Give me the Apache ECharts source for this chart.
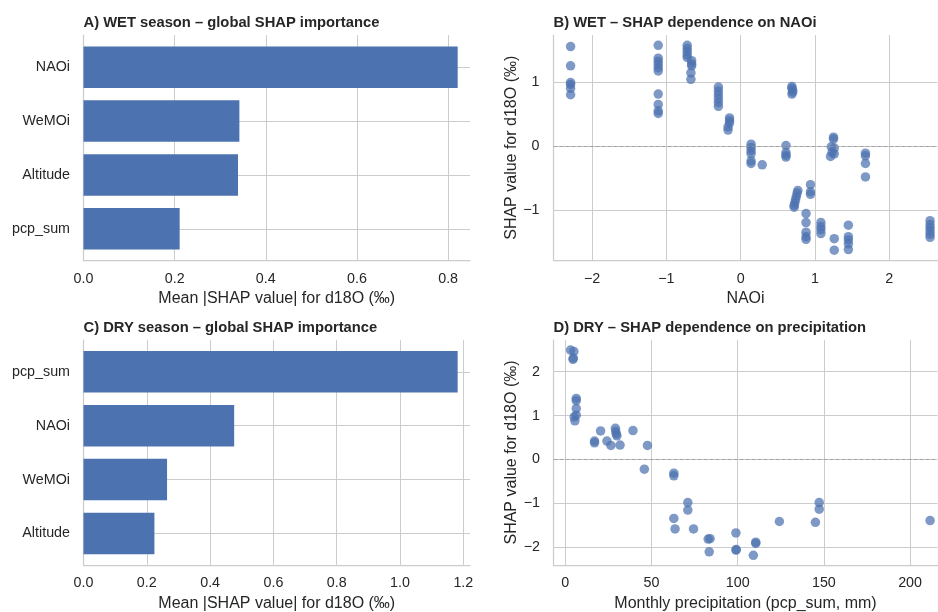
<!DOCTYPE html>
<html>
<head>
<meta charset="utf-8">
<script src="https://cdn.jsdelivr.net/npm/echarts@6/dist/echarts.min.js"></script>
<style>html,body{margin:0;padding:0;background:#fff;}#c{width:938px;height:612px;}</style>
</head>
<body>
<div id="c"></div>
<script>
// ---- data ----
const wetFeatures = ['NAOi', 'WeMOi', 'Altitude', 'pcp_sum'];
const wetImportance = [0.821, 0.342, 0.339, 0.211];
const dryFeatures = ['pcp_sum', 'NAOi', 'WeMOi', 'Altitude'];
const dryImportance = [1.182, 0.476, 0.264, 0.224];

const wetNAOi = [
  -2.29, -2.29, -2.29, -2.29, -2.29, -2.29,
  -1.11, -1.11, -1.11, -1.11, -1.11, -1.11, -1.11, -1.11, -1.11, -1.11,
  -0.72, -0.72, -0.72, -0.72, -0.72, -0.66, -0.66, -0.66, -0.67, -0.67,
  -0.30, -0.30, -0.30, -0.30, -0.30, -0.30,
  -0.15, -0.15, -0.15, -0.17, -0.17,
  0.14, 0.14, 0.14, 0.14, 0.14, 0.14,
  0.29,
  0.61, 0.61, 0.61, 0.61,
  0.69, 0.69, 0.70, 0.70, 0.69,
  0.77, 0.76, 0.75, 0.74, 0.73, 0.72, 0.72,
  0.94, 0.94, 0.94,
  0.88, 0.88, 0.88, 0.88, 0.88,
  1.08, 1.08, 1.08, 1.08,
  1.26, 1.26,
  1.45, 1.45, 1.45, 1.45, 1.45,
  1.25, 1.25, 1.22, 1.26, 1.23, 1.21, 1.26,
  1.68, 1.68, 1.68, 1.68,
  2.55, 2.55, 2.55, 2.55, 2.55, 2.55
];
const wetShap = [
  1.55, 1.25, 0.99, 0.96, 0.90, 0.80,
  1.57, 1.37, 1.32, 1.27, 1.22, 1.17, 0.81, 0.65, 0.55, 0.51,
  1.57, 1.52, 1.47, 1.42, 1.38, 1.33, 1.28, 1.25, 1.14, 1.04,
  0.92, 0.86, 0.80, 0.74, 0.68, 0.62,
  0.44, 0.40, 0.36, 0.30, 0.25,
  0.03, -0.02, -0.07, -0.12, -0.23, -0.27,
  -0.29,
  0.01, -0.10, -0.14, -0.17,
  0.93, 0.90, 0.87, 0.84, 0.81,
  -0.69, -0.73, -0.78, -0.83, -0.88, -0.92, -0.95,
  -0.60, -0.71, -0.75,
  -1.05, -1.19, -1.34, -1.41, -1.45,
  -1.19, -1.25, -1.30, -1.36,
  -1.44, -1.62,
  -1.23, -1.41, -1.46, -1.52, -1.61,
  0.14, 0.11, -0.01, -0.03, -0.10, -0.16, -0.12,
  -0.11, -0.15, -0.27, -0.48,
  -1.16, -1.22, -1.27, -1.32, -1.37, -1.42
];

const dryPcp = [
  3.1, 5.0, 4.7, 4.5,
  6.4, 6.4, 6.4, 6.4, 5.2, 5.6,
  17.0, 17.0, 20.5, 24.2, 26.5, 29.1, 29.3, 30.0, 29.6, 31.8, 39.3, 47.7, 45.9,
  63.0, 63.0, 71.1, 71.1, 63.0, 63.7, 74.4, 82.9, 84.0, 83.5,
  99.0, 99.0, 99.2, 110.5, 110.5, 109.1, 124.2, 145.1, 147.3, 147.3, 211.6
];
const dryShap = [
  2.49, 2.46, 2.31, 2.28,
  1.39, 1.34, 1.16, 1.01, 0.97, 0.88,
  0.42, 0.38, 0.65, 0.42, 0.32, 0.71, 0.64, 0.54, 0.58, 0.33, 0.66, 0.32, -0.22,
  -0.31, -0.37, -0.98, -1.15, -1.34, -1.58, -1.58, -1.81, -1.80, -2.10,
  -1.67, -2.06, -2.05, -1.88, -1.91, -2.18, -1.41, -1.43, -0.98, -1.13, -1.39
];

const wetPoints = wetNAOi.map((v, i) => [v, wetShap[i]]);
const dryPoints = dryPcp.map((v, i) => [v, dryShap[i]]);

// ---- styling ----
const FONT = '"Liberation Sans", Arial, sans-serif';
const TXT = '#262626';
const GRIDC = '#cccccc';
const BLUE = '#4C72B0';
const minus = v => String(v).replace('-', '\u2212');

const tickLabel = extra => Object.assign({color: TXT, fontSize: 14.3, fontFamily: FONT}, extra || {});
const nameStyle = {color: TXT, fontSize: 16, fontFamily: FONT};

function linesX(gridIndex, max, interval, name) {
  return {
    gridIndex, type: 'value', min: 0, max, interval,
    name, nameLocation: 'middle', nameGap: 30.5, nameTextStyle: nameStyle,
    axisLine: {show: true, lineStyle: {color: GRIDC, width: 1.25}},
    axisTick: {show: false},
    axisLabel: tickLabel({margin: 11.5, showMaxLabel: false, formatter: v => v.toFixed(1)}),
    splitLine: {show: true, showMaxLine: false, lineStyle: {color: GRIDC, width: 1}}
  };
}
function hiddenX(gridIndex, max) {
  return {gridIndex, type: 'value', min: 0, max, show: false, splitLine: {show: false}};
}
function linesY(gridIndex) {
  return {
    gridIndex, type: 'value', min: 0, max: 1,
    axisLine: {show: true, lineStyle: {color: GRIDC, width: 1.25}},
    axisTick: {show: false}, axisLabel: {show: false}, splitLine: {show: false}
  };
}
function barsY(gridIndex, cats) {
  return {
    gridIndex, type: 'category', data: cats, inverse: true, boundaryGap: false,
    axisLine: {show: false}, axisTick: {show: false},
    axisLabel: tickLabel({margin: 13.5}),
    splitLine: {show: true, lineStyle: {color: GRIDC, width: 1}}
  };
}
function scatterAxis(gridIndex, min, max, step, name, isY, margin) {
  return {
    gridIndex, type: 'value', min, max, minInterval: step, maxInterval: step,
    name, nameLocation: 'middle', nameGap: isY ? 34 : 30.5, nameTextStyle: nameStyle,
    axisLine: {show: true, onZero: false, lineStyle: {color: GRIDC, width: 1.25}},
    axisTick: {show: false},
    axisLabel: tickLabel({margin, showMinLabel: false, showMaxLabel: false, formatter: minus}),
    splitLine: {show: true, showMinLine: false, showMaxLine: false, lineStyle: {color: GRIDC, width: 1}}
  };
}
function titleAt(text, left, top) {
  return {text, left, top, padding: 0,
    textStyle: {color: TXT, fontSize: 14.75, fontWeight: 'bold', fontFamily: FONT}};
}
const zeroLine = {
  silent: true, symbol: 'none', label: {show: false},
  lineStyle: {color: '#999999', type: [4, 2], width: 1, opacity: 0.8},
  data: [{yAxis: 0}]
};
const scatterStyle = {color: BLUE, opacity: 0.72};

const option = {
  animation: false,
  backgroundColor: '#ffffff',
  textStyle: {fontFamily: FONT},
  title: [
    titleAt('A) WET season \u2013 global SHAP importance', 83.5, 15),
    titleAt('B) WET \u2013 SHAP dependence on NAOi', 553.5, 15),
    titleAt('C) DRY season \u2013 global SHAP importance', 83.5, 320),
    titleAt('D) DRY \u2013 SHAP dependence on precipitation', 553.5, 320)
  ],
  grid: [
    {left: 83.5, top: 35, width: 386.5, height: 225.5, outerBoundsMode: 'none'},
    {left: 83.5, top: 67.2, width: 386.5, height: 161.6, outerBoundsMode: 'none'},
    {left: 553.5, top: 35, width: 384, height: 225.5, outerBoundsMode: 'none'},
    {left: 83.5, top: 340, width: 386.5, height: 224.8, outerBoundsMode: 'none'},
    {left: 83.5, top: 371.8, width: 386.5, height: 161.7, outerBoundsMode: 'none'},
    {left: 553.5, top: 340, width: 384, height: 225, outerBoundsMode: 'none'}
  ],
  xAxis: [
    linesX(0, 0.848, 0.2, 'Mean |SHAP value| for d18O (\u2030)'),
    hiddenX(1, 0.848),
    scatterAxis(2, -2.52, 2.65, 1, 'NAOi', false, 11.5),
    linesX(3, 1.221, 0.2, 'Mean |SHAP value| for d18O (\u2030)'),
    hiddenX(4, 1.221),
    scatterAxis(5, -6.8, 215.9, 50, 'Monthly precipitation (pcp_sum, mm)', false, 11.5)
  ],
  yAxis: [
    linesY(0),
    barsY(1, wetFeatures),
    scatterAxis(2, -1.78, 1.73, 1, 'SHAP value for d18O (\u2030)', true, 14),
    linesY(3),
    barsY(4, dryFeatures),
    scatterAxis(5, -2.40, 2.72, 1, 'SHAP value for d18O (\u2030)', true, 13.5)
  ],
  series: [
    {type: 'bar', xAxisIndex: 1, yAxisIndex: 1, data: wetImportance, barWidth: 41.5, clip: false,
      itemStyle: {color: BLUE}},
    {type: 'scatter', xAxisIndex: 2, yAxisIndex: 2, data: wetPoints, symbolSize: 9.5,
      itemStyle: scatterStyle, markLine: zeroLine},
    {type: 'bar', xAxisIndex: 4, yAxisIndex: 4, data: dryImportance, barWidth: 41.5, clip: false,
      itemStyle: {color: BLUE}},
    {type: 'scatter', xAxisIndex: 5, yAxisIndex: 5, data: dryPoints, symbolSize: 9.5,
      itemStyle: scatterStyle, markLine: zeroLine}
  ]
};

const chart = echarts.init(document.getElementById('c'), null, {renderer: 'canvas'});
chart.setOption(option);
</script>
</body>
</html>
